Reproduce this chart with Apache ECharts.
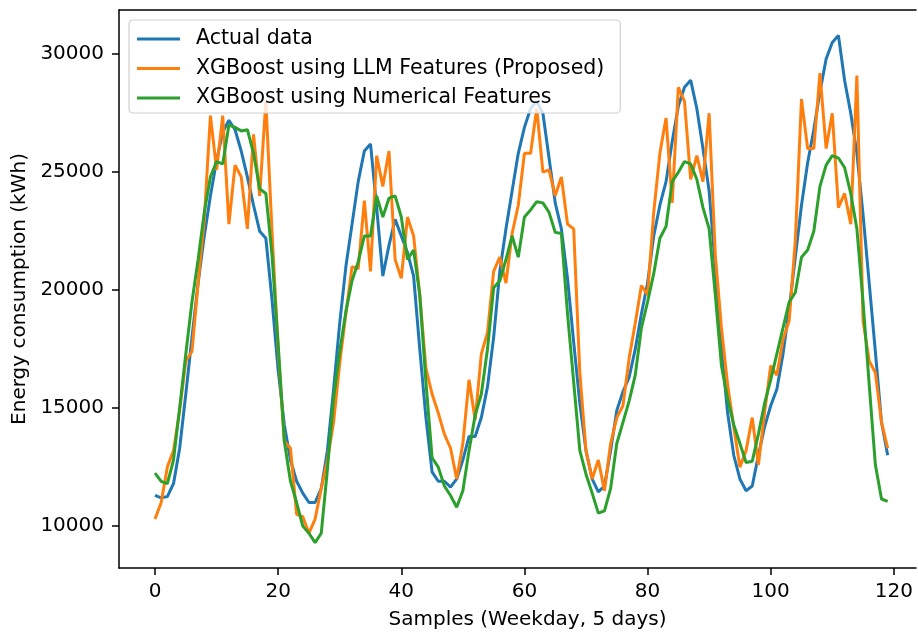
<!DOCTYPE html>
<html>
<head>
<meta charset="utf-8">
<title>Energy consumption</title>
<script src="https://cdn.jsdelivr.net/npm/echarts@6/dist/echarts.min.js"></script>
<style>
    html, body { margin: 0; padding: 0; background: #fff; overflow: hidden; }
    #box { width: 918px; height: 636px; }
</style>
</head>
<body>
<div id="box"></div>
<script>
// values, one per sample (0..119)
var actualData = [
    11300, 11200, 11250, 11800, 13300, 15600, 18000, 20300, 22300, 24000,
    25500, 26700, 27200, 26800, 25900, 24800, 23600, 22500, 22200, 19600,
    16600, 14300, 12800, 11900, 11400, 11000, 11000, 11600, 13200, 15800,
    18600, 21000, 22800, 24600, 25900, 26200, 23500, 20600, 21900, 23000,
    22300, 21600, 20600, 17500, 14600, 12300, 11900, 11900, 11650, 12000,
    12800, 13800, 13800, 14600, 15900, 18000, 20800, 22600, 24200, 25800,
    26900, 27700, 28000, 27500, 25600, 23700, 22600, 20500, 17800, 15200,
    13200, 12000, 11450, 11700, 13200, 14900, 15700, 16300, 17500, 19000,
    20300, 22300, 23600, 24600, 26300, 27800, 28600, 28900, 27700, 26000,
    24200, 21000, 17500, 14800, 13000, 12000, 11500, 11700, 13000, 14200,
    15100, 15800, 17300, 19200, 21400, 23600, 25400, 26800, 28400, 29800,
    30500, 30800, 28900, 27500, 25800, 23200, 20300, 17400, 14400, 13000
];
var llmData = [
    10300, 11000, 12500, 13200, 14900, 17000, 17400, 20300, 23000, 27400,
    25100, 27400, 22800, 25300, 24800, 22600, 26600, 24000, 28000, 22500,
    17500, 13600, 13300, 10500, 10400, 9700, 10300, 11600, 12800, 14400,
    16900, 19000, 21000, 20900, 23800, 20800, 25700, 24400, 25900, 21300,
    20500, 23100, 22300, 19800, 16700, 15600, 14800, 13900, 13300, 12000,
    13500, 16200, 14500, 17300, 18200, 20800, 21400, 20300, 22400, 23600,
    25800, 25800, 27700, 25000, 25100, 24000, 24800, 22800, 22600, 16500,
    13200, 12000, 12800, 11500, 13500, 14600, 15100, 17100, 18600, 20200,
    19800, 23300, 25800, 27300, 23700, 28600, 28000, 24700, 25700, 24600,
    27500, 21500, 18400, 16000, 14200, 12500, 13200, 14600, 12600, 14800,
    16800, 16400, 17900, 18700, 22100, 28100, 26000, 26000, 29200, 26000,
    27500, 23500, 24100, 22800, 29100, 18700, 17000, 16500, 14400, 13300
];
var numericalData = [
    12250, 11900, 11800, 12800, 15000, 17300, 19500, 21300, 23300, 24800,
    25450, 25350, 27000, 26900, 26750, 26800, 25800, 24300, 24100, 21500,
    17700, 13600, 11900, 11000, 10000, 9700, 9300, 9700, 12400, 15400,
    17400, 19100, 20400, 21200, 22300, 22300, 24000, 23100, 23900, 24000,
    23100, 21300, 21700, 19800, 16100, 12900, 12500, 11700, 11300, 10800,
    11500, 13200, 14700, 15600, 17500, 20100, 20400, 21300, 22300, 21400,
    23100, 23400, 23750, 23700, 23300, 22450, 22400, 19000, 16100, 13200,
    12200, 11400, 10550, 10650, 11600, 13500, 14400, 15300, 16400, 18400,
    19500, 20700, 22200, 22700, 24600, 25000, 25450, 25350, 24700, 23500,
    22600, 19800, 16800, 15400, 14300, 13500, 12700, 12750, 13900, 15200,
    16200, 17300, 18400, 19500, 19900, 21400, 21700, 22500, 24400, 25300,
    25700, 25600, 25200, 24100, 22600, 19500, 16000, 12600, 11150, 11050
];
var seriesNames = [
    'Actual data',
    'XGBoost using LLM Features (Proposed)',
    'XGBoost using Numerical Features'
];
var xTicks = [0, 20, 40, 60, 80, 100, 120];
var yTicks = [10000, 15000, 20000, 25000, 30000];

window.onload = function () {

    var myChart = echarts.init(document.getElementById('box'));
    var font = 'DejaVu Sans';
    // the reference is cropped on the right: the plot stops at the picture edge
    var xMin = -5.85, xMax = 123.6;

    function toPairs(arr) {
        return arr.map(function (v, i) {
            return [i, v];
        });
    }

    function makeSeries(name, arr, color) {
        return {
            name: name,
            type: 'line',
            data: toPairs(arr),
            symbol: 'none',
            lineStyle: { color: color, width: 3 },
            itemStyle: { color: color },
            emphasis: { disabled: true }
        };
    }

    var option = {
        animation: false,
        backgroundColor: '#ffffff',
        grid: {
            left: 119,
            top: 10,
            width: 797,
            height: 558,
            outerBoundsMode: 'none'
        },
        // hide the right edge, the reference has no visible right spine
        graphic: [{
            type: 'rect',
            left: 912,
            top: 12,
            shape: { width: 6, height: 554 },
            style: { fill: '#ffffff' },
            z: 100
        }],
        legend: {
            orient: 'vertical',
            left: 129,
            top: 20,
            icon: 'rect',
            itemWidth: 43,
            itemHeight: 3,
            itemGap: 5.5,
            padding: [7, 16, 3, 8],
            backgroundColor: 'rgba(255,255,255,0.8)',
            borderColor: '#d0d0d0',
            borderWidth: 1.2,
            borderRadius: 4,
            textStyle: {
                fontFamily: font,
                fontSize: 20.5,
                color: '#000',
                lineHeight: 24,
                padding: [0, 0, 0, 11]
            },
            data: seriesNames
        },
        xAxis: [{
            type: 'value',
            min: xMin,
            max: xMax,
            name: 'Samples (Weekday, 5 days)',
            nameLocation: 'middle',
            nameGap: 42,
            nameTextStyle: { fontFamily: font, fontSize: 20, color: '#000', padding: [0, 0, 0, 20] },
            axisLine: { onZero: false, lineStyle: { color: '#000', width: 1.5 } },
            axisTick: {
                show: true,
                customValues: xTicks,
                length: 7,
                lineStyle: { color: '#000', width: 1.5 }
            },
            axisLabel: {
                customValues: xTicks,
                margin: 14,
                fontFamily: font,
                fontSize: 20,
                color: '#000'
            },
            splitLine: { show: false }
        }, {
            // top spine
            type: 'value',
            position: 'top',
            min: xMin,
            max: xMax,
            axisLine: { show: true, onZero: false, lineStyle: { color: '#000', width: 1.5 } },
            axisTick: { show: false },
            axisLabel: { show: false },
            splitLine: { show: false }
        }],
        yAxis: {
            type: 'value',
            min: 8225,
            max: 31875,
            name: 'Energy consumption (kWh)',
            nameLocation: 'middle',
            nameGap: 88,
            nameTextStyle: { fontFamily: font, fontSize: 20, color: '#000' },
            axisLine: { show: true, onZero: false, lineStyle: { color: '#000', width: 1.5 } },
            axisTick: {
                show: true,
                customValues: yTicks,
                length: 7,
                lineStyle: { color: '#000', width: 1.5 }
            },
            axisLabel: {
                customValues: yTicks,
                margin: 15,
                fontFamily: font,
                fontSize: 20,
                color: '#000',
                formatter: function (val) {
                    return String(val);
                }
            },
            splitLine: { show: false }
        },
        series: [
            makeSeries(seriesNames[0], actualData, '#1f77b4'),
            makeSeries(seriesNames[1], llmData, '#ff7f0e'),
            makeSeries(seriesNames[2], numericalData, '#2ca02c')
        ]
    };

    myChart.setOption(option);
    window.addEventListener('resize', function () {
        myChart.resize();
    });
};
</script>
</body>
</html>
